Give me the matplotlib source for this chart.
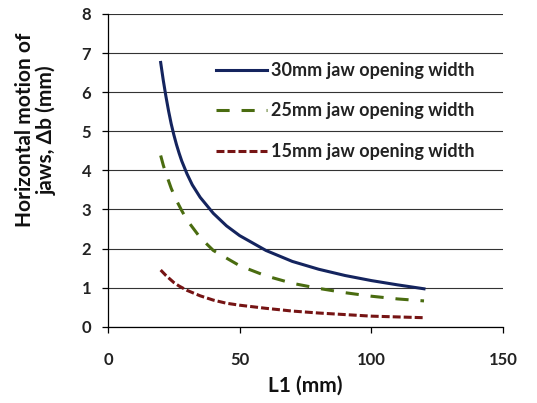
import matplotlib.pyplot as plt

# values
l1_30 = [20, 21, 22, 23, 24, 25, 26, 27, 28, 30, 32, 35, 40, 45, 50, 60, 70, 80, 90, 100, 110, 120]
db_30 = [6.76, 6.30, 5.89, 5.52, 5.19, 4.91, 4.66, 4.44, 4.24, 3.91, 3.63, 3.31, 2.90, 2.58,
         2.33, 1.95, 1.67, 1.47, 1.31, 1.18, 1.07, 0.97]

l1_25 = [20, 21, 22, 24, 26, 28, 30, 35, 40, 50, 60, 70, 80, 90, 100, 110, 120]
db_25 = [4.38, 4.13, 3.92, 3.54, 3.23, 2.97, 2.73, 2.28, 1.95, 1.56, 1.30, 1.11, 0.98, 0.87,
         0.78, 0.71, 0.66]

l1_15 = [20, 22, 25, 27, 30, 35, 40, 45, 50, 60, 70, 80, 90, 100, 110, 120]
db_15 = [1.45, 1.31, 1.13, 1.04, 0.93, 0.79, 0.68, 0.60, 0.55, 0.47, 0.40, 0.35, 0.31, 0.27,
         0.25, 0.23]

x_ticks = [0, 50, 100, 150]
y_ticks = [0, 1, 2, 3, 4, 5, 6, 7, 8]

plt.rcParams['font.family'] = ['Lato', 'DejaVu Sans']

W, H = 537, 403
fig = plt.figure(figsize=(W / 100, H / 100), dpi=100)
ax = fig.add_axes([108 / W, 1 - 326.7 / H, (503 - 108) / W, (326.7 - 14) / H])

ax.plot(l1_30, db_30, color='#14245e', lw=2.2, label='30mm jaw opening width')
ax.plot(l1_25, db_25, color='#4a6c10', lw=2.2, dashes=(4.3, 3.9), label='25mm jaw opening width')
ax.plot(l1_15, db_15, color='#761414', lw=2.2, dashes=(2.6, 1.0), label='15mm jaw opening width')

ax.set_xlim(0, 150)
ax.set_ylim(0, 8)
ax.set_xticks(x_ticks)
ax.set_yticks(y_ticks)
ax.grid(axis='y', color='#333333', lw=0.8)
ax.set_axisbelow(True)
for s in ['top', 'right']:
    ax.spines[s].set_visible(False)
ax.spines['left'].set_linewidth(0.9)
ax.spines['bottom'].set_linewidth(0.9)
ax.tick_params(direction='out', length=4, width=0.9, labelsize=12)
ax.tick_params(axis='x', pad=14)
ax.tick_params(axis='y', pad=8)
for lbl in ax.get_xticklabels() + ax.get_yticklabels():
    lbl.set_fontweight('bold')
    lbl.set_color('#222222')

fig.text(305.5 / W, 1 - 386 / H, 'L1 (mm)', fontsize=15, fontweight='bold',
         ha='center', va='center', color='#111111')
fig.text(36 / W, 1 - 130 / H, 'Horizontal motion of\njaws, Δb (mm)', fontsize=15,
         fontweight='bold', rotation=90, ha='center', va='center', multialignment='center',
         linespacing=1.05, color='#111111')

leg = ax.legend(loc='upper left', bbox_to_anchor=(216 / W, 1 - 62 / H),
                bbox_transform=fig.transFigure, frameon=False, borderpad=0, borderaxespad=0,
                fontsize=13, handlelength=2.85, handletextpad=0.22, labelspacing=1.3)
for t in leg.get_texts():
    t.set_fontweight('bold')
    t.set_color('#222222')

fig.savefig('out.png', dpi=100)
